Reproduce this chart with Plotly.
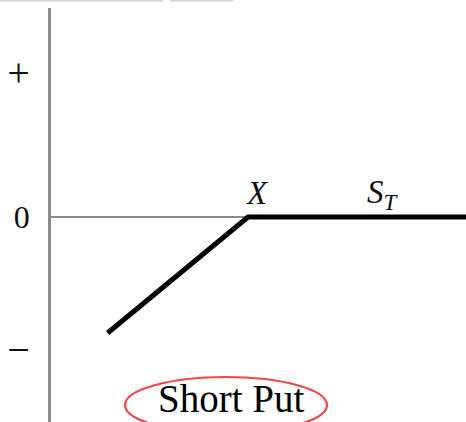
import plotly.graph_objects as go

# payoff of a short put at expiry
strike = 40
spot_prices = [11.5, 40, 85]
payoffs = [-28.5, 0, 0]

tick_vals = [35, 0, -33]
tick_text = ['<span style="font-size:40px">+</span>', "0",
             '<span style="font-size:40px">\u2212</span>']

W, H = 466, 422
x_px, y_px = 4.925, 4.07      # pixels per unit
origin_x, origin_y, top_y = 51, 217, 8

fig = go.Figure()
fig.add_trace(go.Scatter(
    x=spot_prices, y=payoffs, mode="lines",
    line=dict(color="black", width=5),
    hoverinfo="skip", showlegend=False
))

serif = "Liberation Serif, Times New Roman, serif"

fig.add_annotation(x=strike + 1.8, y=5.9, text="<i>X</i>", showarrow=False,
                   font=dict(family=serif, size=33, color="#111"))
fig.add_annotation(x=67.5, y=5.6, text="<i>S</i><sub><i>T</i></sub>", showarrow=False,
                   font=dict(family=serif, size=33, color="#111"))

# label with red ellipse
fig.add_shape(type="circle", xref="paper", yref="paper",
              x0=125 / W, x1=327 / W, y0=1 - 433 / H, y1=1 - 377 / H,
              line=dict(color="#f04646", width=2.2))
fig.add_annotation(xref="paper", yref="paper", x=231 / W, y=1 - 398 / H,
                   text="Short Put", showarrow=False, yanchor="middle",
                   font=dict(family=serif, size=39, color="black"))

# faint border fragments at the top edge
for a, b in [(0, 163), (170, 233)]:
    fig.add_shape(type="line", xref="paper", yref="paper",
                  x0=a / W, x1=b / W, y0=0.999, y1=0.999,
                  line=dict(color="#d2d2d2", width=2))

fig.update_layout(
    width=W, height=H,
    margin=dict(l=0, r=0, t=0, b=0),
    paper_bgcolor="white", plot_bgcolor="white",
    xaxis=dict(domain=[origin_x / W, 1],
               range=[0, (W - origin_x) / x_px],
               showgrid=False, zeroline=False, showticklabels=False,
               showline=False, fixedrange=True),
    yaxis=dict(domain=[0, (H - top_y) / H],
               range=[-(H - origin_y) / y_px, (origin_y - top_y) / y_px],
               showgrid=False, zeroline=True, zerolinecolor="#8c8c8c",
               zerolinewidth=1.5, showline=True, linecolor="#8c8c8c",
               linewidth=2.5, tickvals=tick_vals, ticktext=tick_text,
               ticks="", ticklabelstandoff=12,
               tickfont=dict(family=serif, size=32, color="#111"),
               fixedrange=True),
)

fig.write_html("out.html", config={"displayModeBar": False},
               post_script="document.body.style.margin='0';")
